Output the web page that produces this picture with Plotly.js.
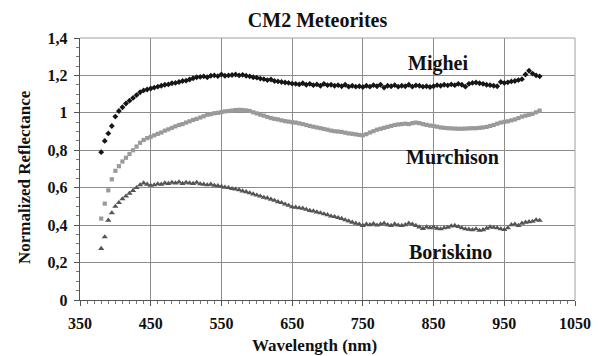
<!DOCTYPE html>
<html>
<head>
<meta charset="utf-8">
<script src="https://cdn.plot.ly/plotly-3.0.1.min.js"></script>
<style>html,body{margin:0;padding:0;background:#fff;}#chart{width:598px;height:356px;}</style>
</head>
<body>
<div id="chart"></div>
<script>
// Wavelength (nm)
const wavelength = [380,385,390,395,400,405,410,415,420,425,430,435,440,445,450,455,460,465,470,475,480,485,490,495,500,505,510,515,520,525,530,535,540,545,550,555,560,565,570,575,580,585,590,595,600,605,610,615,620,625,630,635,640,645,650,655,660,665,670,675,680,685,690,695,700,705,710,715,720,725,730,735,740,745,750,755,760,765,770,775,780,785,790,795,800,805,810,815,820,825,830,835,840,845,850,855,860,865,870,875,880,885,890,895,900,905,910,915,920,925,930,935,940,945,950,955,960,965,970,975,980,985,990,995,1000];

const mighei = [0.79,0.85,0.89,0.93,0.98,1.01,1.03,1.05,1.065,1.08,1.095,1.11,1.12,1.125,1.13,1.135,1.14,1.145,1.15,1.152,1.158,1.16,1.165,1.17,1.172,1.178,1.185,1.19,1.192,1.195,1.19,1.198,1.2,1.196,1.205,1.198,1.2,1.202,1.205,1.2,1.203,1.198,1.195,1.19,1.188,1.183,1.18,1.175,1.178,1.17,1.168,1.165,1.162,1.16,1.156,1.155,1.152,1.158,1.15,1.155,1.148,1.152,1.145,1.155,1.148,1.15,1.145,1.148,1.142,1.15,1.14,1.145,1.14,1.142,1.138,1.145,1.14,1.148,1.142,1.15,1.135,1.145,1.142,1.148,1.14,1.145,1.142,1.15,1.14,1.147,1.145,1.14,1.142,1.138,1.142,1.148,1.145,1.15,1.147,1.152,1.148,1.155,1.15,1.14,1.155,1.16,1.162,1.158,1.155,1.15,1.148,1.145,1.142,1.165,1.16,1.163,1.168,1.17,1.175,1.18,1.205,1.225,1.21,1.2,1.195];

const murchison = [0.435,0.515,0.586,0.645,0.69,0.715,0.74,0.76,0.78,0.8,0.82,0.84,0.855,0.865,0.872,0.88,0.888,0.895,0.905,0.912,0.92,0.928,0.935,0.94,0.948,0.955,0.962,0.968,0.975,0.982,0.99,0.993,0.998,1.0,1.004,1.008,1.01,1.012,1.015,1.016,1.015,1.013,1.01,1.003,0.997,0.99,0.985,0.978,0.972,0.968,0.965,0.96,0.956,0.953,0.95,0.948,0.944,0.94,0.935,0.93,0.926,0.922,0.918,0.914,0.91,0.905,0.902,0.9,0.898,0.894,0.89,0.888,0.885,0.882,0.88,0.886,0.895,0.902,0.91,0.915,0.92,0.925,0.93,0.935,0.938,0.94,0.942,0.94,0.945,0.948,0.945,0.94,0.936,0.932,0.93,0.926,0.922,0.92,0.918,0.917,0.916,0.915,0.915,0.916,0.917,0.918,0.918,0.92,0.922,0.925,0.93,0.935,0.942,0.948,0.952,0.955,0.96,0.965,0.972,0.98,0.985,0.99,0.995,1.003,1.012];

const boriskino = [0.275,0.337,0.426,0.465,0.5,0.52,0.54,0.555,0.57,0.585,0.6,0.615,0.625,0.618,0.612,0.615,0.62,0.618,0.625,0.622,0.628,0.625,0.63,0.622,0.628,0.625,0.622,0.628,0.62,0.618,0.615,0.618,0.612,0.61,0.607,0.602,0.6,0.595,0.592,0.588,0.582,0.578,0.572,0.566,0.56,0.555,0.548,0.545,0.538,0.532,0.525,0.52,0.512,0.505,0.497,0.495,0.492,0.49,0.484,0.478,0.475,0.47,0.465,0.46,0.455,0.448,0.445,0.44,0.435,0.428,0.422,0.415,0.41,0.405,0.398,0.405,0.402,0.408,0.4,0.405,0.41,0.402,0.398,0.406,0.4,0.398,0.402,0.41,0.405,0.398,0.39,0.382,0.39,0.385,0.39,0.383,0.38,0.385,0.388,0.395,0.398,0.392,0.385,0.38,0.378,0.375,0.38,0.372,0.375,0.383,0.39,0.388,0.385,0.38,0.376,0.385,0.402,0.405,0.398,0.41,0.415,0.418,0.42,0.428,0.425];

const seriesNames = ["Mighei", "Murchison", "Boriskino"];
const xTickVals = [350,450,550,650,750,850,950,1050];
const yTickVals = [0,0.2,0.4,0.6,0.8,1,1.2,1.4];

const FONT = "'Liberation Serif', 'Times New Roman', serif";

const traces = [
  {x: wavelength, y: mighei, name: seriesNames[0], mode: 'markers', type: 'scatter',
   marker: {symbol: 'diamond', size: 4.5, color: '#161616'}},
  {x: wavelength, y: murchison, name: seriesNames[1], mode: 'markers', type: 'scatter',
   marker: {symbol: 'square', size: 4.2, color: '#9a9a9a'}},
  {x: wavelength, y: boriskino, name: seriesNames[2], mode: 'markers', type: 'scatter',
   marker: {symbol: 'triangle-up', size: 5.5, color: '#555555'}}
];

const layout = {
  width: 598, height: 356,
  margin: {l: 80, r: 23, t: 38, b: 56},
  paper_bgcolor: '#fff', plot_bgcolor: '#fff',
  showlegend: false,
  separators: ',.',
  font: {family: FONT, color: '#111', size: 16},
  title: {text: 'CM2 Meteorites', font: {family: FONT, size: 20, weight: 'bold', color: '#111'},
          x: 0.531, xref: 'container', xanchor: 'center', y: 1 - 20/356, yanchor: 'middle', yref: 'container'},
  xaxis: {
    range: [350, 1050], tickvals: xTickVals, ticktext: xTickVals.map(String),
    showgrid: true, gridcolor: '#8c8c8c', gridwidth: 1,
    showline: true, linecolor: '#555', linewidth: 1.2, mirror: false,
    ticks: 'outside', ticklen: 5, tickcolor: '#555',
    minor: {dtick: 10, tick0: 350, ticks: 'outside', ticklen: 3, tickcolor: '#777', showgrid: false},
    tickfont: {family: FONT, size: 16, weight: 'bold', color: '#111'},
    ticklabelstandoff: 4,
    zeroline: false, fixedrange: true
  },
  yaxis: {
    range: [0, 1.4], tickvals: yTickVals,
    showgrid: true, gridcolor: '#8c8c8c', gridwidth: 1,
    showline: true, linecolor: '#555', linewidth: 1.2, mirror: false,
    ticks: 'outside', ticklen: 5, tickcolor: '#555',
    minor: {dtick: 0.05, tick0: 0, ticks: 'outside', ticklen: 3, tickcolor: '#777', showgrid: false},
    tickfont: {family: FONT, size: 16, weight: 'bold', color: '#111'},
    ticklabelstandoff: 3,
    zeroline: false, fixedrange: true
  },
  shapes: [
    {type: 'line', xref: 'paper', yref: 'paper', x0: 0, x1: 1, y0: 1, y1: 1, line: {color: '#a0a0a0', width: 1}},
    {type: 'line', xref: 'paper', yref: 'paper', x0: 1, x1: 1, y0: 0, y1: 1, line: {color: '#a0a0a0', width: 1}}
  ],
  annotations: [
    {text: 'Normalized Reflectance', xref: 'paper', yref: 'paper', x: (24 - 80) / 495, y: (300 - 177) / 262,
     xanchor: 'center', yanchor: 'middle', textangle: -90, showarrow: false,
     font: {family: FONT, size: 17, weight: 'bold', color: '#111'}},
    {text: 'Wavelength (nm)', xref: 'paper', yref: 'paper', x: (314 - 80) / 495, y: (300 - 345) / 262,
     xanchor: 'center', yanchor: 'middle', showarrow: false,
     font: {family: FONT, size: 17, weight: 'bold', color: '#111'}},
    {text: seriesNames[0], x: 856, y: 1.264, xanchor: 'center', yanchor: 'middle', showarrow: false,
     font: {family: FONT, size: 20, weight: 'bold', color: '#111'}},
    {text: seriesNames[1], x: 877, y: 0.762, xanchor: 'center', yanchor: 'middle', showarrow: false,
     font: {family: FONT, size: 20, weight: 'bold', color: '#111'}},
    {text: seriesNames[2], x: 874, y: 0.255, xanchor: 'center', yanchor: 'middle', showarrow: false,
     font: {family: FONT, size: 20, weight: 'bold', color: '#111'}}
  ]
};

Plotly.newPlot('chart', traces, layout, {displayModeBar: false, staticPlot: true});
</script>
</body>
</html>
